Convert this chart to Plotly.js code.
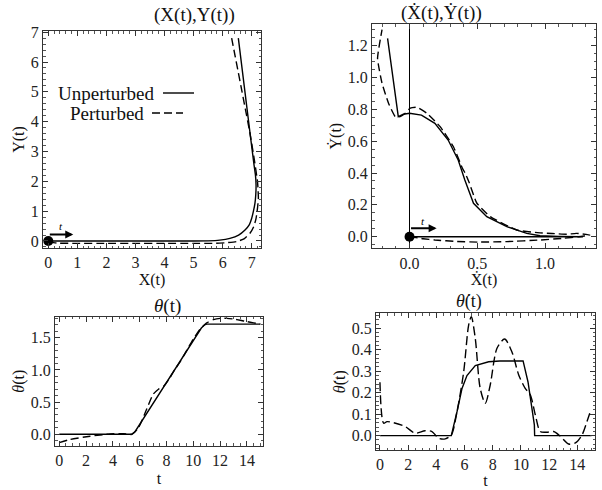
<!DOCTYPE html>
<html><head><meta charset="utf-8">
<script src="https://cdn.plot.ly/plotly-3.0.1.min.js"></script>
<style>html,body{margin:0;padding:0;background:#fff}</style>
</head><body><div id="chart" style="width:602px;height:490px"></div>
<script>
// ---------- DATA ----------
// Panel 1: (X(t), Y(t))
const pathX_unpert = [0, 1, 2, 3, 4, 5, 5.5, 5.9, 6.25, 6.55, 6.77, 6.92, 7.0, 7.06, 7.11, 7.14, 7.15, 7.13, 7.08, 6.95, 6.54];
const pathY_unpert = [0, 0, 0, 0, 0, 0, 0.005, 0.03, 0.09, 0.2, 0.37, 0.55, 0.76, 1.0, 1.25, 1.55, 1.88, 2.2, 2.55, 3.56, 6.8];
const pathX_pert = [0, 0.3, 1, 2, 3, 4, 5, 5.68, 6.1, 6.48, 6.75, 6.94, 7.07, 7.15, 7.2, 7.23, 7.22, 7.2, 7.08, 6.95, 6.31];
const pathY_pert = [-0.03, -0.07, -0.08, -0.08, -0.08, -0.08, -0.08, -0.08, -0.06, -0.02, 0.08, 0.26, 0.48, 0.76, 1.1, 1.43, 1.7, 1.99, 2.79, 3.56, 6.8];
// Panel 2: (Xdot(t), Ydot(t))
const velX_unpert = [0, 0.4, 0.8, 1.28, 1.1, 0.963, 0.865, 0.718, 0.57, 0.472, 0.408, 0.359, 0.285, 0.187, 0.088, 0, -0.046, -0.083, -0.162];
const velY_unpert = [0, 0, 0, 0, 0.002, 0.006, 0.021, 0.063, 0.126, 0.21, 0.356, 0.482, 0.607, 0.712, 0.764, 0.775, 0.769, 0.754, 1.246];
const velX_pert = [0, 0.1, 0.187, 0.35, 0.506, 0.718, 0.963, 1.135, 1.25, 1.33, 1.23, 1.16, 1.05, 0.963, 0.791, 0.595, 0.497, 0.44, 0.41, 0.39, 0.324, 0.226, 0.128, 0.054, 0.005, -0.032, -0.069, -0.105, -0.155, -0.203, -0.236, -0.203];
const velY_pert = [0, -0.013, -0.021, -0.03, -0.034, -0.031, -0.021, -0.01, 0.0, 0.01, 0.021, 0.015, 0.02, 0.024, 0.042, 0.126, 0.21, 0.34, 0.4, 0.43, 0.565, 0.691, 0.775, 0.813, 0.807, 0.775, 0.754, 0.754, 0.838, 0.964, 1.12, 1.30];
// Panel 3: theta(t)
const th_t_unpert = [0, 5.4, 5.65, 10.6, 10.85, 11.0, 15];
const th_unpert = [0, 0, 0.04, 1.65, 1.7, 1.71, 1.71];
const th_t_pert = [0, 0.8, 2.3, 3.8, 4.8, 5.4, 5.9, 6.5, 7.0, 7.4, 7.8, 8.2, 8.6, 9.0, 9.5, 10.0, 10.5, 11.0, 11.5, 12.0, 12.5, 13.0, 13.5, 14.0, 14.5, 15.0];
const th_pert = [-0.13, -0.08, -0.03, 0.005, 0.01, 0.0, 0.1, 0.38, 0.62, 0.7, 0.75, 0.86, 1.0, 1.12, 1.3, 1.48, 1.63, 1.73, 1.78, 1.8, 1.8, 1.79, 1.77, 1.75, 1.73, 1.71];
// Panel 4: thetadot(t)
const thd_t_unpert = [0, 5.06, 5.46, 5.82, 6.17, 6.76, 7.71, 8.5, 10.15, 10.5, 10.95, 10.97, 15];
const thd_unpert = [0, 0, 0.11, 0.22, 0.28, 0.326, 0.344, 0.348, 0.348, 0.25, 0.05, 0, 0];
const thd_t_pert = [0, 0.26, 0.5, 0.97, 1.8, 2.5, 3.2, 3.69, 4.16, 4.63, 5.06, 5.46, 5.94, 6.29, 6.48, 6.76, 7.11, 7.47, 7.82, 8.3, 8.84, 9.36, 9.84, 10.3, 10.66, 11.02, 11.37, 11.84, 12.32, 12.79, 13.38, 13.86, 14.33, 14.68, 14.96];
const thd_pert = [0.249, 0.058, 0.065, 0.06, 0.042, 0.011, 0.023, 0.019, -0.012, -0.015, 0.003, 0.11, 0.298, 0.515, 0.554, 0.453, 0.22, 0.151, 0.236, 0.407, 0.45, 0.39, 0.283, 0.22, 0.19, 0.096, 0.019, 0.016, 0.019, -0.003, -0.039, -0.034, 0.003, 0.065, 0.12];
// start markers and direction arrows
const start1 = [0, 0], arrow1 = [0, 0.22, 0.86, 0.22], tLabel1 = [0.44, 0.5];
const start2 = [0, 0], arrow2 = [0, 0.053, 0.2, 0.053], tLabel2 = [0.1, 0.1];
const legendNames = ['Unperturbed', 'Perturbed'];

// ---------- LAYOUT ----------
const W = 602, H = 490;
const FONT = 'Liberation Serif, Times New Roman, serif';
const px = v => v / W, py = v => 1 - v / H;

function axis(dom, range, dtick, minor, fmt, title, standoff, anchor) {
  return {
    domain: dom, range: range, dtick: dtick, tick0: 0, tickformat: fmt,
    ticks: 'inside', ticklen: 5, tickwidth: 1, tickcolor: '#333',
    minor: {dtick: minor, ticks: 'inside', ticklen: 2.5, tickwidth: 1, tickcolor: '#555', showgrid: false},
    mirror: 'ticks', showline: true, linecolor: '#333', linewidth: 1,
    showgrid: false, zeroline: false, anchor: anchor,
    tickfont: {family: FONT, size: 16, color: '#222'},
    title: {text: title, font: {family: FONT, size: 16, color: '#111'}, standoff: standoff},
    automargin: false, fixedrange: true
  };
}

const solid = {color: '#000', width: 1.4};
const dashed = {color: '#000', width: 1.4, dash: '8px,4px'};

const traces = [
  {x: pathX_unpert, y: pathY_unpert, xaxis: 'x', yaxis: 'y', mode: 'lines', line: Object.assign({shape: 'spline', smoothing: 0.5}, solid)},
  {x: pathX_pert, y: pathY_pert, xaxis: 'x', yaxis: 'y', mode: 'lines', line: Object.assign({shape: 'spline', smoothing: 0.5}, dashed)},
  {x: [start1[0]], y: [start1[1]], xaxis: 'x', yaxis: 'y', mode: 'markers', marker: {color: '#000', size: 10}},
  {x: velX_unpert, y: velY_unpert, xaxis: 'x2', yaxis: 'y2', mode: 'lines', line: solid},
  {x: velX_pert, y: velY_pert, xaxis: 'x2', yaxis: 'y2', mode: 'lines', line: Object.assign({shape: 'spline', smoothing: 0.4}, dashed)},
  {x: [start2[0]], y: [start2[1]], xaxis: 'x2', yaxis: 'y2', mode: 'markers', marker: {color: '#000', size: 10}},
  {x: th_t_unpert, y: th_unpert, xaxis: 'x3', yaxis: 'y3', mode: 'lines', line: solid},
  {x: th_t_pert, y: th_pert, xaxis: 'x3', yaxis: 'y3', mode: 'lines', line: Object.assign({shape: 'spline', smoothing: 0.6}, dashed)},
  {x: thd_t_unpert, y: thd_unpert, xaxis: 'x4', yaxis: 'y4', mode: 'lines', line: solid},
  {x: thd_t_pert, y: thd_pert, xaxis: 'x4', yaxis: 'y4', mode: 'lines', line: Object.assign({shape: 'spline', smoothing: 0.8}, {color: '#000', width: 1.4, dash: '9px,4px'})}
];
traces.forEach(t => { t.showlegend = false; t.hoverinfo = 'skip'; });

const x2 = axis([px(372), px(596)], [-0.277, 1.376], 0.5, 0.1, '.1f', 'Ẋ(t)', 1, 'y2');
x2.zeroline = true; x2.zerolinecolor = '#000'; x2.zerolinewidth = 1;

const titleFont = {family: FONT, size: 19, color: '#111'};
const layout = {
  width: W, height: H, margin: {l: 0, r: 0, t: 0, b: 0},
  paper_bgcolor: '#fff', plot_bgcolor: '#fff', showlegend: false,
  xaxis: axis([px(43), px(261)], [-0.182, 7.32], 1, 0.2, 'd', 'X(t)', 2, 'y'),
  yaxis: axis([py(248), py(31)], [-0.235, 7.04], 1, 0.2, 'd', 'Y(t)', 2, 'x'),
  xaxis2: x2,
  yaxis2: axis([py(248.3), py(24)], [-0.073, 1.336], 0.2, 0.05, '.1f', 'Ẏ(t)', 2, 'x2'),
  xaxis3: axis([px(55), px(263)], [-0.32, 15.2], 2, 0.5, 'd', 't', 4, 'y3'),
  yaxis3: axis([py(445.7), py(316.7)], [-0.177, 1.826], 0.5, 0.1, '.1f', '<i>θ</i>(t)', 2, 'x3'),
  xaxis4: axis([px(376), px(595)], [-0.28, 15.25], 2, 0.5, 'd', 't', 2, 'y4'),
  yaxis4: axis([py(450), py(313.3)], [-0.067, 0.57], 0.1, 0.02, '.1f', '<i>θ̇</i>(t)', 2, 'x4'),
  annotations: [
    {text: '(X(t),Y(t))', xref: 'paper', yref: 'paper', x: px(152), y: py(15), yanchor: 'middle', showarrow: false, font: titleFont},
    {text: '(Ẋ(t),Ẏ(t))', xref: 'paper', yref: 'paper', x: px(484), y: py(13), yanchor: 'middle', showarrow: false, font: titleFont},
    {text: '<i>θ</i>(t)', xref: 'paper', yref: 'paper', x: px(152), y: py(306), yanchor: 'middle', showarrow: false, font: titleFont},
    {text: '<i>θ̇</i>(t)', xref: 'paper', yref: 'paper', x: px(484), y: py(301), yanchor: 'middle', showarrow: false, font: {family: FONT, size: 18, color: '#111'}},
    {text: legendNames[0], xref: 'paper', yref: 'paper', x: px(157), y: py(93), xanchor: 'right', yanchor: 'middle', showarrow: false, font: {family: FONT, size: 19, color: '#111'}},
    {text: legendNames[1], xref: 'paper', yref: 'paper', x: px(146), y: py(113), xanchor: 'right', yanchor: 'middle', showarrow: false, font: {family: FONT, size: 19, color: '#111'}},
    {xref: 'x', yref: 'y', axref: 'x', ayref: 'y', x: arrow1[2], y: arrow1[3], ax: arrow1[0], ay: arrow1[1], showarrow: true, arrowhead: 2, arrowsize: 0.8, arrowwidth: 2, arrowcolor: '#000', text: ''},
    {xref: 'x', yref: 'y', x: tLabel1[0], y: tLabel1[1], text: '<i>t</i>', showarrow: false, font: {family: FONT, size: 11, color: '#000'}},
    {xref: 'x2', yref: 'y2', axref: 'x2', ayref: 'y2', x: arrow2[2], y: arrow2[3], ax: arrow2[0], ay: arrow2[1], showarrow: true, arrowhead: 2, arrowsize: 0.8, arrowwidth: 2, arrowcolor: '#000', text: ''},
    {xref: 'x2', yref: 'y2', x: tLabel2[0], y: tLabel2[1], text: '<i>t</i>', showarrow: false, font: {family: FONT, size: 11, color: '#000'}}
  ],
  shapes: [
    {type: 'line', xref: 'paper', yref: 'paper', x0: px(163), x1: px(194), y0: py(93), y1: py(93), line: {color: '#000', width: 1.4}},
    {type: 'line', xref: 'paper', yref: 'paper', x0: px(152), x1: px(183), y0: py(113), y1: py(113), line: {color: '#000', width: 1.4, dash: '8px,4px'}}
  ]
};

Plotly.newPlot('chart', traces, layout, {staticPlot: true, displayModeBar: false});
</script>
</body></html>
